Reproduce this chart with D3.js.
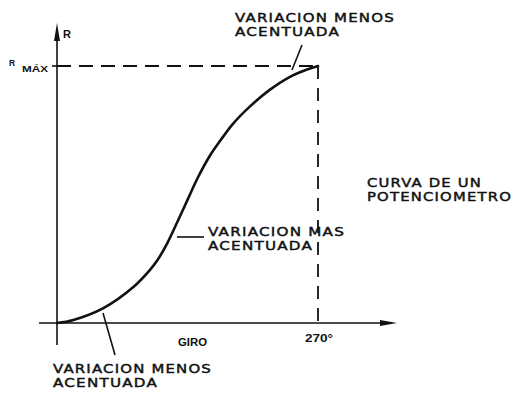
<!doctype html>
<html lang="es">
<head>
<meta charset="utf-8">
<title>Curva de un potenciometro</title>
<script src="https://cdn.jsdelivr.net/npm/d3@7"></script>
<style>
    body { margin: 0; background: #fff; }
    svg { display: block; }
    .lbl { font-family: "DejaVu Sans", "Liberation Sans", sans-serif; fill: #111; }
    .bold { font-family: "Liberation Sans", Arial, sans-serif; font-weight: bold; }
</style>
</head>
<body>
<svg width="520" height="393"></svg>
<script>
    // giro del cursor (grados) y resistencia (% de R max)
    var giro = [0, 17, 48, 79, 96, 104, 114, 124, 135, 146, 158, 169, 182, 200, 220, 241, 257, 270];
    var resistencia = [0, 1.2, 5.8, 14, 20.6, 24.5, 31, 38.9, 47.9, 56.8, 65, 71, 77.5, 84.4, 90.7, 95.8, 98.4, 100];
    var giroMax = 270;
    var rMax = 100;
    var xTickLabels = ["270°"];

    var svg = d3.select("svg");

    var x = d3.scaleLinear().domain([0, giroMax]).range([57, 318]);
    var y = d3.scaleLinear().domain([0, rMax]).range([323, 66]);

    var ink = "#111";

    // dashed guides to R max / 270
    svg.append("line")
        .attr("x1", x(0)).attr("y1", y(rMax))
        .attr("x2", x(giroMax)).attr("y2", y(rMax))
        .attr("stroke", ink).attr("stroke-width", 1.8)
        .attr("stroke-dasharray", "14,8");
    svg.append("line")
        .attr("x1", x(giroMax)).attr("y1", y(rMax))
        .attr("x2", x(giroMax)).attr("y2", y(0) + 5)
        .attr("stroke", ink).attr("stroke-width", 1.8)
        .attr("stroke-dasharray", "13,9");

    // axes
    svg.append("line")
        .attr("x1", x(0)).attr("y1", y(0) + 22)
        .attr("x2", x(0)).attr("y2", 36)
        .attr("stroke", ink).attr("stroke-width", 1.6);
    svg.append("path")
        .attr("d", "M" + x(0) + ",23 L" + (x(0) - 3) + ",41 L" + (x(0) + 3) + ",41 Z")
        .attr("fill", ink);

    svg.append("line")
        .attr("x1", x(0) - 18).attr("y1", y(0))
        .attr("x2", 384).attr("y2", y(0))
        .attr("stroke", ink).attr("stroke-width", 1.6);
    svg.append("path")
        .attr("d", "M397," + y(0) + " L380," + (y(0) - 3) + " L380," + (y(0) + 3) + " Z")
        .attr("fill", ink);

    // tick at R max
    svg.append("line")
        .attr("x1", x(0) - 5).attr("y1", y(rMax))
        .attr("x2", x(0) + 4).attr("y2", y(rMax))
        .attr("stroke", ink).attr("stroke-width", 1.6);

    // curve
    var pts = giro.map(function (g, i) { return [g, resistencia[i]]; });
    var line = d3.line()
        .x(function (d) { return x(d[0]); })
        .y(function (d) { return y(d[1]); })
        .curve(d3.curveCatmullRom.alpha(0.5));
    svg.append("path")
        .datum(pts)
        .attr("d", line)
        .attr("fill", "none")
        .attr("stroke", ink)
        .attr("stroke-width", 2.6)
        .attr("stroke-linecap", "round");

    // axis labels
    svg.append("text").attr("class", "lbl bold")
        .attr("x", x(0) + 6).attr("y", 38)
        .style("font-size", "11px").text("R");
    svg.append("text").attr("class", "lbl bold")
        .attr("x", 9).attr("y", 66)
        .style("font-size", "8.5px").text("R");
    svg.append("text").attr("class", "lbl bold")
        .attr("x", 22).attr("y", 72)
        .attr("textLength", 26).attr("lengthAdjust", "spacingAndGlyphs")
        .style("font-size", "9.5px").text("MÁX");
    svg.append("text").attr("class", "lbl bold")
        .attr("x", 178).attr("y", 346)
        .attr("textLength", 29).attr("lengthAdjust", "spacingAndGlyphs")
        .style("font-size", "10px").text("GIRO");
    svg.selectAll(".xtick")
        .data(xTickLabels)
        .enter().append("text")
        .attr("class", "lbl bold xtick")
        .attr("x", x(giroMax) - 13).attr("y", 342)
        .attr("textLength", 28).attr("lengthAdjust", "spacingAndGlyphs")
        .style("font-size", "10px")
        .text(function (d) { return d; });

    // annotations
    var notes = [
        { lines: ["VARIACION MENOS", "ACENTUADA"], x: 235, y: 22, w: [160, 105] },
        { lines: ["VARIACION MAS", "ACENTUADA"], x: 208, y: 236, w: [137, 105] },
        { lines: ["VARIACION MENOS", "ACENTUADA"], x: 53, y: 373, w: [159, 105] },
        { lines: ["CURVA DE UN", "POTENCIOMETRO"], x: 367, y: 187, w: [115, 145] }
    ];
    notes.forEach(function (n) {
        n.lines.forEach(function (t, i) {
            svg.append("text").attr("class", "lbl")
                .attr("x", n.x).attr("y", n.y + i * 14)
                .attr("textLength", n.w[i]).attr("lengthAdjust", "spacingAndGlyphs")
                .style("font-size", "12.5px")
                .style("letter-spacing", "1px")
                .style("stroke", ink).style("stroke-width", 0.45)
                .text(t);
        });
    });

    // leader lines
    var leaders = [
        [[302, 45], [292, 70]],
        [[177, 237], [204, 237]],
        [[103, 313], [115, 355]]
    ];
    svg.selectAll(".leader")
        .data(leaders)
        .enter().append("line")
        .attr("class", "leader")
        .attr("x1", function (d) { return d[0][0]; })
        .attr("y1", function (d) { return d[0][1]; })
        .attr("x2", function (d) { return d[1][0]; })
        .attr("y2", function (d) { return d[1][1]; })
        .attr("stroke", ink).attr("stroke-width", 1.6);
</script>
</body>
</html>
